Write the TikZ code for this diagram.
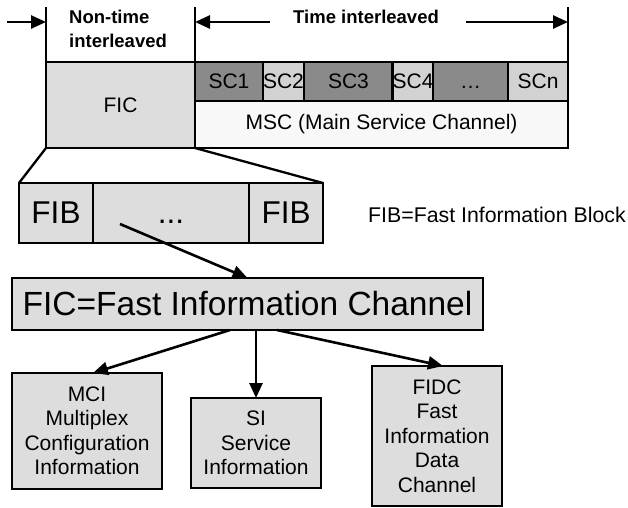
\documentclass[tikz,border=0pt]{standalone}
\usepackage{fontspec}
\setmainfont{Liberation Sans}
\usetikzlibrary{arrows.meta,calc}
\definecolor{boxgray}{HTML}{DDDDDD}
\definecolor{scdark}{HTML}{8A8A8A}
\definecolor{sclight}{HTML}{D2D2D2}
\definecolor{mscfill}{HTML}{F8F8F8}
\begin{document}
\begin{tikzpicture}[x=1pt,y=-1pt,
  cell/.style={draw, line width=2.6pt, inner sep=0pt, outer sep=0pt,
    font=\fontsize{21}{24.5}\selectfont, align=center},
  bigcell/.style={cell, font=\fontsize{31.5}{36}\selectfont},
  lbl/.style={inner sep=0pt, font=\fontsize{18.5}{24}\selectfont\bfseries, align=left},
  arr/.style={line width=2.6pt, -{Triangle[length=15pt,width=13pt]}},
  thin/.style={line width=2.3pt}
]
\useasboundingbox (0,0) rectangle (628,507);

% top frame boxes
\node[cell, fill=boxgray, minimum width=149pt, minimum height=86pt] (fic) at (120.5,105) {FIC};
\node[cell, fill=scdark, minimum width=68pt, minimum height=39pt] (sc1) at (229,81.5) {SC1};
\node[cell, fill=sclight, minimum width=41pt, minimum height=39pt] (sc2) at (283.5,81.5) {SC2};
\node[cell, fill=scdark, minimum width=89pt, minimum height=39pt] (sc3) at (348.5,81.5) {SC3};
\node[cell, fill=sclight, minimum width=40pt, minimum height=39pt] (sc4) at (413,81.5) {SC4};
\node[cell, fill=scdark, minimum width=75pt, minimum height=39pt] (scd) at (470.5,81.5) {\vphantom{SC}\dots};
\node[cell, fill=sclight, minimum width=60pt, minimum height=39pt] (scn) at (538,81.5) {SCn};
\node[cell, fill=mscfill, minimum width=373pt, minimum height=47pt] (msc) at (381.5,124.5) {MSC (Main Service Channel)};

% top labels and markers
\coordinate (t1) at (46,7);
\coordinate (t2) at (195,7);
\coordinate (t3) at (568,7);
\draw[thin] (t1) -- (fic.north west);
\draw[thin] (t2) -- (fic.north east);
\draw[thin] (t3) -- (scn.north east);
\coordinate (a0) at (7,22);
\coordinate (b0) at (270,22);
\coordinate (c0) at (466,22);
\draw[arr] (a0) -- (a0 -| fic.west);
\draw[arr] (b0) -- (b0 -| fic.east);
\draw[arr] (c0) -- (c0 -| scn.east);
\node[lbl, anchor=base west] (nt) at (69,47) {Non-time\\interleaved};
\node[lbl, anchor=base west] (ti) at (293,23) {Time interleaved};

% FIB row
\node[bigcell, fill=boxgray, minimum width=74pt, minimum height=60pt] (fib1) at (56,213) {FIB};
\node[bigcell, fill=boxgray, minimum width=156pt, minimum height=60pt] (fibm) at (171,213) {\vphantom{FIB}...};
\node[bigcell, fill=boxgray, minimum width=74pt, minimum height=60pt] (fib2) at (286,213) {FIB};
\draw[thin] (fic.south west) -- (fib1.north west);
\draw[thin] (fic.south east) -- (fib2.north east);
\node[inner sep=0pt, font=\fontsize{21.3}{24}\selectfont, anchor=base west] (fibdef) at (368,222) {FIB=Fast Information Block};

% FIC channel box
\node[cell, fill=boxgray, font=\fontsize{33.5}{38}\selectfont, minimum width=471pt, minimum height=52pt] (fic2) at (247.5,304) {FIC=Fast Information Channel};
\draw[arr] ($(fibm.center)+(-51,11)$) -- (fic2.north);

% children
\node[cell, fill=boxgray, minimum width=150pt, minimum height=116pt] (mci) at (87,431) {MCI\\Multiplex\\Configuration\\Information};
\node[cell, fill=boxgray, minimum width=130pt, minimum height=90pt] (si) at (256,443) {SI\\Service\\Information};
\node[cell, fill=boxgray, minimum width=130pt, minimum height=140pt] (fidc) at (437,436) {FIDC\\Fast\\Information\\Data\\Channel};

\draw[arr] ($(fic2.south)+(-17.5,0)$) -- ($(mci.north)+(6,0)$);
\draw[arr] (si.north |- fic2.south) -- (si.north);
\draw[arr] ($(fic2.south)+(29.5,0)$) -- ($(fidc.north)+(6,0)$);
\end{tikzpicture}
\end{document}
